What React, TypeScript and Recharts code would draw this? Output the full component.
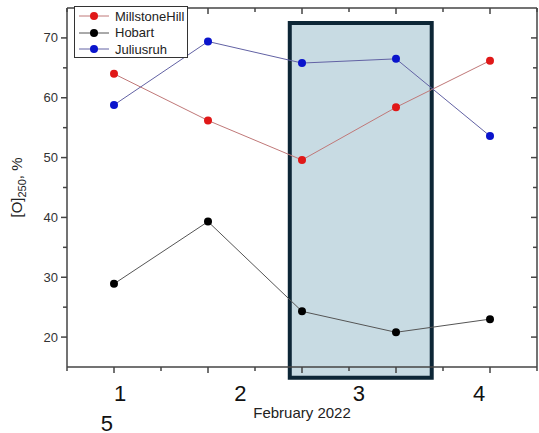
import React from 'react';
import {
  ComposedChart,
  Line,
  XAxis,
  YAxis,
  ReferenceArea,
  Legend,
  Label,
} from 'recharts';

// day slots on the 0..10 x scale where the points sit
const dayPos = [1, 3, 5, 7, 9];
const millstoneHill = [64.0, 56.2, 49.6, 58.4, 66.2];
const hobart = [28.9, 39.3, 24.3, 20.8, 23.0];
const juliusruh = [58.8, 69.4, 65.8, 66.5, 53.6];

const seriesKeys = ['MillstoneHill', 'Hobart', 'Juliusruh'];
const lineColors = ['#c07878', '#555555', '#6262a4'];
const dotColors = ['#e01818', '#000000', '#0a14cc'];

const xTicks = [0, 1, 2, 3, 4, 5, 6, 7, 8, 9, 10];
const yTicks = [20, 25, 30, 35, 40, 45, 50, 55, 60, 65, 70];

// the printed day labels (they do not line up with the ticks in the source)
const xLabels = ['1', '2', '3', '4', '5'];
const xLabelPos = [1.13, 3.69, 6.21, 8.77, 0.85];
const xLabelRow = [0, 0, 0, 0, 1];

// highlighted period
const boxX = [4.74, 7.76];
const boxY = [13.2, 72.5];

const data = dayPos.map((d, i) => ({
  day: d,
  MillstoneHill: millstoneHill[i],
  Hobart: hobart[i],
  Juliusruh: juliusruh[i],
}));

const FONT = '"Liberation Sans", Arial, sans-serif';
const AXIS = '#444';

const isMajorX = (v: number) => v % 2 === 1;
const isMajorY = (v: number) => v % 10 === 0;

const BottomTick = (props: any) => {
  const { x, y, payload } = props;
  const li = xLabelPos.indexOf(payload.value);
  if (li >= 0) {
    return (
      <text
        x={x}
        y={y + 34 + xLabelRow[li] * 30}
        textAnchor="middle"
        fontSize={22}
        fill="#111"
        fontFamily={FONT}
      >
        {xLabels[li]}
      </text>
    );
  }
  const len = isMajorX(payload.value) ? 6 : 4;
  return <line x1={x} x2={x} y1={y} y2={y + len} stroke={AXIS} strokeWidth={1.5} />;
};

const TopTick = (props: any) => {
  const { x, y, payload } = props;
  const len = isMajorX(payload.value) ? 6 : 4;
  return <line x1={x} x2={x} y1={y} y2={y + len} stroke={AXIS} strokeWidth={1.5} />;
};

const LeftTick = (props: any) => {
  const { x, y, payload } = props;
  const major = isMajorY(payload.value);
  return (
    <g>
      <line x1={x} x2={x - (major ? 6 : 4)} y1={y} y2={y} stroke={AXIS} strokeWidth={1.5} />
      {major && (
        <text x={x - 9} y={y + 4.5} textAnchor="end" fontSize={13} fill="#333" fontFamily={FONT}>
          {payload.value}
        </text>
      )}
    </g>
  );
};

const RightTick = (props: any) => {
  const { x, y, payload } = props;
  const len = isMajorY(payload.value) ? 6 : 4;
  return <line x1={x} x2={x - len} y1={y} y2={y} stroke={AXIS} strokeWidth={1.5} />;
};

const YTitle = (props: any) => {
  const vb = props.viewBox;
  const cx = 22;
  const cy = vb.y + vb.height / 2;
  return (
    <text
      transform={`translate(${cx},${cy}) rotate(-90)`}
      textAnchor="middle"
      fontSize={15}
      fill="#222"
      fontFamily={FONT}
    >
      [O]
      <tspan fontSize={11} dy={4}>250</tspan>
      <tspan dy={-4}>, %</tspan>
    </text>
  );
};

const XTitle = (props: any) => {
  const vb = props.viewBox;
  return (
    <text
      x={vb.x + vb.width / 2}
      y={vb.y + 51}
      textAnchor="middle"
      fontSize={15}
      fill="#222"
      fontFamily={FONT}
    >
      February 2022
    </text>
  );
};

const LegendBox = (props: any) => {
  const payload = [...(props.payload || [])].sort(
    (a: any, b: any) => seriesKeys.indexOf(a.dataKey) - seriesKeys.indexOf(b.dataKey),
  );
  return (
    <div
      style={{
        width: 114,
        height: 52,
        border: '1px solid #333',
        background: '#fff',
        fontFamily: FONT,
        fontSize: 13,
        color: '#222',
        boxSizing: 'border-box',
        paddingTop: 1,
      }}
    >
      {payload.map((p: any) => {
        const i = seriesKeys.indexOf(p.dataKey);
        return (
          <div key={p.dataKey} style={{ display: 'flex', alignItems: 'center', height: 16.5 }}>
            <svg width={38} height={12} style={{ marginLeft: 2 }}>
              <line x1={2} x2={32} y1={6} y2={6} stroke={lineColors[i]} strokeWidth={1} />
              <circle cx={17} cy={6} r={4} fill={dotColors[i]} />
            </svg>
            <span>{p.value}</span>
          </div>
        );
      })}
    </div>
  );
};

export default function App() {
  return (
    <div style={{ position: 'absolute', left: 0, top: 0, width: 539, height: 433, background: '#fff' }}>
      <ComposedChart width={539} height={433} data={data} margin={{ top: 8, right: 2, bottom: 0, left: 0 }}>
        <XAxis
          xAxisId="main"
          dataKey="day"
          type="number"
          domain={[0, 10]}
          ticks={[...xTicks, ...xLabelPos]}
          interval={0}
          height={66}
          tickSize={0}
          tickMargin={0}
          tickLine={false}
          tick={<BottomTick />}
          axisLine={{ stroke: AXIS, strokeWidth: 1.5 }}
        >
          <Label content={<XTitle />} />
        </XAxis>
        <XAxis
          xAxisId="top"
          dataKey="day"
          orientation="top"
          type="number"
          domain={[0, 10]}
          ticks={xTicks}
          interval={0}
          mirror
          height={1}
          tickSize={0}
          tickMargin={0}
          tickLine={false}
          tick={<TopTick />}
          axisLine={{ stroke: AXIS, strokeWidth: 1.5 }}
        />
        <YAxis
          yAxisId="left"
          type="number"
          domain={[15, 75]}
          ticks={yTicks}
          interval={0}
          width={67}
          tickSize={0}
          tickMargin={0}
          tickLine={false}
          tick={<LeftTick />}
          axisLine={{ stroke: AXIS, strokeWidth: 1.5 }}
        >
          <Label content={<YTitle />} />
        </YAxis>
        <YAxis
          yAxisId="right"
          dataKey="MillstoneHill"
          orientation="right"
          type="number"
          domain={[15, 75]}
          ticks={yTicks}
          interval={0}
          mirror
          width={1}
          tickSize={0}
          tickMargin={0}
          tickLine={false}
          tick={<RightTick />}
          axisLine={{ stroke: AXIS, strokeWidth: 1.5 }}
        />
        <ReferenceArea
          xAxisId="main"
          yAxisId="left"
          x1={boxX[0]}
          x2={boxX[1]}
          y1={boxY[0]}
          y2={boxY[1]}
          ifOverflow="visible"
          fill="#c8dbe3"
          fillOpacity={1}
          stroke="#0d2636"
          strokeWidth={4}
        />
        {seriesKeys.map((k, i) => (
          <Line
            key={k}
            xAxisId="main"
            yAxisId="left"
            dataKey={k}
            name={k}
            type="linear"
            stroke={lineColors[i]}
            strokeWidth={1}
            dot={{ r: 4, fill: dotColors[i], stroke: dotColors[i], strokeWidth: 0 }}
            activeDot={false}
            isAnimationActive={false}
          />
        ))}
        <Legend
          layout="vertical"
          align="center"
          verticalAlign="middle"
          content={<LegendBox />}
          wrapperStyle={{ position: 'absolute', left: 74, top: 6, width: 114, height: 52 }}
        />
      </ComposedChart>
    </div>
  );
}
